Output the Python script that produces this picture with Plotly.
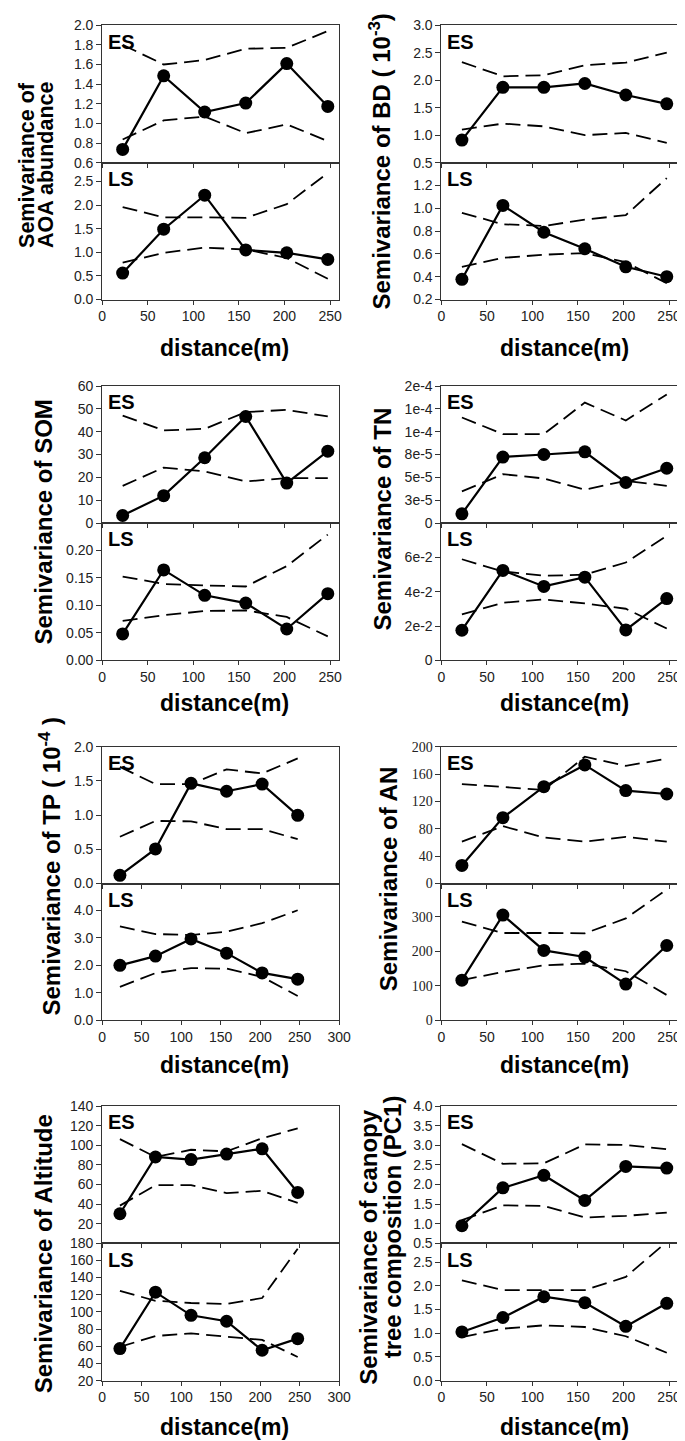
import plotly.graph_objects as go

W, H = 685, 1441

# ---------------- data ----------------
lag = [22.5, 67.5, 112.5, 157.5, 202.5, 247.5]

aoa_es = [0.735, 1.484, 1.116, 1.207, 1.609, 1.173]
aoa_es_upper = [1.80, 1.60, 1.645, 1.76, 1.77, 1.94]
aoa_es_lower = [0.836, 1.03, 1.07, 0.90, 0.99, 0.82]
aoa_ls = [0.56, 1.49, 2.21, 1.05, 0.99, 0.85]
aoa_ls_upper = [1.96, 1.74, 1.74, 1.73, 2.02, 2.68]
aoa_ls_lower = [0.78, 0.99, 1.10, 1.06, 0.88, 0.44]

bd_es = [0.91, 1.87, 1.87, 1.94, 1.73, 1.57]
bd_es_upper = [2.33, 2.07, 2.09, 2.27, 2.32, 2.50]
bd_es_lower = [1.10, 1.21, 1.16, 1.00, 1.04, 0.86]
bd_ls = [0.377, 1.025, 0.79, 0.645, 0.487, 0.40]
bd_ls_upper = [0.96, 0.86, 0.845, 0.90, 0.94, 1.265]
bd_ls_lower = [0.487, 0.565, 0.593, 0.607, 0.527, 0.342]

som_es = [3.3, 12.0, 28.6, 46.7, 17.5, 31.5]
som_es_upper = [47.1, 40.6, 41.3, 48.6, 49.6, 46.7]
som_es_lower = [16.3, 24.3, 22.6, 18.2, 19.7, 19.7]
som_ls = [0.048, 0.164, 0.118, 0.104, 0.057, 0.121]
som_ls_upper = [0.152, 0.1385, 0.136, 0.134, 0.171, 0.228]
som_ls_lower = [0.0716, 0.082, 0.0895, 0.0907, 0.0788, 0.0436]

tn_es = [1.01e-5, 7.23e-5, 7.51e-5, 7.8e-5, 4.44e-5, 6.0e-5]
tn_es_upper = [1.156e-4, 9.75e-5, 9.75e-5, 1.319e-4, 1.124e-4, 1.409e-4]
tn_es_lower = [3.47e-5, 5.35e-5, 4.88e-5, 3.65e-5, 4.62e-5, 4.08e-5]
tn_ls = [0.0176, 0.0524, 0.0431, 0.0485, 0.0178, 0.0360]
tn_ls_upper = [0.0589, 0.0518, 0.0493, 0.0499, 0.0570, 0.0725]
tn_ls_lower = [0.0268, 0.0336, 0.0355, 0.0332, 0.0301, 0.0186]

tp_es = [0.12, 0.506, 1.465, 1.35, 1.455, 0.998]
tp_es_upper = [1.706, 1.455, 1.455, 1.67, 1.61, 1.83]
tp_es_lower = [0.684, 0.916, 0.91, 0.795, 0.795, 0.65]
tp_ls = [2.0, 2.335, 2.958, 2.443, 1.725, 1.497]
tp_ls_upper = [3.413, 3.138, 3.10, 3.22, 3.53, 4.0]
tp_ls_lower = [1.22, 1.72, 1.90, 1.88, 1.58, 0.886]

an_es = [26.5, 96.4, 141.7, 173.5, 135.9, 131.0]
an_es_upper = [145.5, 140.7, 136.9, 185.5, 172.0, 182.6]
an_es_lower = [61.2, 83.9, 67.5, 61.2, 68.4, 61.2]
an_ls = [116.5, 304.7, 202.5, 183.4, 105.1, 216.8]
an_ls_upper = [285.6, 253.0, 253.0, 252.0, 295.0, 379.0]
an_ls_lower = [116.5, 140.4, 159.5, 164.3, 142.3, 73.5]

alt_es = [30.1, 88.0, 85.4, 91.0, 96.4, 51.8]
alt_es_upper = [106.2, 88.0, 95.4, 93.7, 107.2, 117.2]
alt_es_lower = [38.4, 59.2, 59.2, 51.2, 53.5, 41.1]
alt_ls = [57.4, 123.0, 96.1, 89.2, 55.4, 68.9]
alt_ls_upper = [124.6, 113.0, 110.4, 109.3, 116.2, 173.5]
alt_ls_lower = [59.3, 72.0, 75.0, 70.8, 67.4, 47.6]

pc1_es = [0.946, 1.913, 2.233, 1.593, 2.46, 2.418]
pc1_es_upper = [3.03, 2.527, 2.54, 3.02, 3.006, 2.897]
pc1_es_lower = [1.089, 1.467, 1.45, 1.156, 1.198, 1.282]
pc1_ls = [1.028, 1.333, 1.771, 1.646, 1.146, 1.632]
pc1_ls_upper = [2.118, 1.91, 1.91, 1.91, 2.188, 2.93]
pc1_ls_lower = [0.917, 1.097, 1.167, 1.132, 0.9375, 0.59]

# tick labels
x_ticks_250 = [0, 50, 100, 150, 200, 250]
x_ticks_300 = [0, 50, 100, 150, 200, 250, 300]

aoa_es_ticks = ["0.6", "0.8", "1.0", "1.2", "1.4", "1.6", "1.8", "2.0"]
aoa_ls_ticks = ["0.0", "0.5", "1.0", "1.5", "2.0", "2.5"]
bd_es_ticks = ["0.5", "1.0", "1.5", "2.0", "2.5", "3.0"]
bd_ls_ticks = ["0.2", "0.4", "0.6", "0.8", "1.0", "1.2"]
som_es_ticks = ["0", "10", "20", "30", "40", "50", "60"]
som_ls_ticks = ["0.00", "0.05", "0.10", "0.15", "0.20"]
tn_es_tickvals = [0, 2.5e-5, 5e-5, 7.5e-5, 1e-4, 1.25e-4, 1.5e-4]
tn_es_ticks = ["0", "3e-5", "5e-5", "8e-5", "1e-4", "1e-4", "2e-4"]
tn_ls_tickvals = [0, 0.02, 0.04, 0.06]
tn_ls_ticks = ["0", "2e-2", "4e-2", "6e-2"]
tp_es_ticks = ["0.0", "0.5", "1.0", "1.5", "2.0"]
tp_ls_ticks = ["0.0", "1.0", "2.0", "3.0", "4.0"]
an_es_ticks = ["0", "40", "80", "120", "160", "200"]
an_ls_ticks = ["0", "100", "200", "300"]
alt_es_ticks = ["20", "40", "60", "80", "100", "120", "140"]
alt_ls_ticks = ["20", "40", "60", "80", "100", "120", "140", "160", "180"]
pc1_es_ticks = ["0.5", "1.0", "1.5", "2.0", "2.5", "3.0", "3.5", "4.0"]
pc1_ls_ticks = ["0.0", "0.5", "1.0", "1.5", "2.0", "2.5"]

# ---------------- layout geometry (pixels) ----------------
rows = [(9.3, 148.3, 286.7), (374.3, 512.7, 651.7), (739.0, 877.3, 1015.7), (1102.3, 1241.0, 1380.0)]
cols = [(92.3, 335.0), (439.7, 683.0)]
xlabel_y = [336, 695, 1061, 1427]

SANS = "Liberation Sans, Arial, sans-serif"
SERIF = "Liberation Serif, Times New Roman, serif"
AX = "#333333"

def num(t):
    return [float(s) for s in t]

panels = [
    dict(r=0, c=0, xmax=260, xt=x_ticks_250,
         es=(aoa_es, aoa_es_upper, aoa_es_lower), ls=(aoa_ls, aoa_ls_upper, aoa_ls_lower),
         es_r=[0.6, 2.0], es_tv=num(aoa_es_ticks), es_tt=aoa_es_ticks,
         ls_r=[0, 2.9], ls_tv=num(aoa_ls_ticks), ls_tt=aoa_ls_ticks, yfont=SANS),
    dict(r=0, c=1, xmax=261, xt=x_ticks_250,
         es=(bd_es, bd_es_upper, bd_es_lower), ls=(bd_ls, bd_ls_upper, bd_ls_lower),
         es_r=[0.5, 3.0], es_tv=num(bd_es_ticks), es_tt=bd_es_ticks,
         ls_r=[0.2, 1.4], ls_tv=num(bd_ls_ticks), ls_tt=bd_ls_ticks, yfont=SANS),
    dict(r=1, c=0, xmax=260, xt=x_ticks_250,
         es=(som_es, som_es_upper, som_es_lower), ls=(som_ls, som_ls_upper, som_ls_lower),
         es_r=[0, 60], es_tv=num(som_es_ticks), es_tt=som_es_ticks,
         ls_r=[0, 0.249], ls_tv=num(som_ls_ticks), ls_tt=som_ls_ticks, yfont=SANS),
    dict(r=1, c=1, xmax=261, xt=x_ticks_250,
         es=(tn_es, tn_es_upper, tn_es_lower), ls=(tn_ls, tn_ls_upper, tn_ls_lower),
         es_r=[0, 1.5e-4], es_tv=tn_es_tickvals, es_tt=tn_es_ticks,
         ls_r=[0, 0.08], ls_tv=tn_ls_tickvals, ls_tt=tn_ls_ticks, yfont=SANS),
    dict(r=2, c=0, xmax=300, xt=x_ticks_300,
         es=(tp_es, tp_es_upper, tp_es_lower), ls=(tp_ls, tp_ls_upper, tp_ls_lower),
         es_r=[0, 2.0], es_tv=num(tp_es_ticks), es_tt=tp_es_ticks,
         ls_r=[0, 4.97], ls_tv=num(tp_ls_ticks), ls_tt=tp_ls_ticks, yfont=SANS),
    dict(r=2, c=1, xmax=261, xt=x_ticks_250,
         es=(an_es, an_es_upper, an_es_lower), ls=(an_ls, an_ls_upper, an_ls_lower),
         es_r=[0, 200], es_tv=num(an_es_ticks), es_tt=an_es_ticks,
         ls_r=[0, 396], ls_tv=num(an_ls_ticks), ls_tt=an_ls_ticks, yfont=SERIF),
    dict(r=3, c=0, xmax=300, xt=x_ticks_300,
         es=(alt_es, alt_es_upper, alt_es_lower), ls=(alt_ls, alt_ls_upper, alt_ls_lower),
         es_r=[0, 140], es_tv=num(alt_es_ticks), es_tt=alt_es_ticks,
         ls_r=[20, 180], ls_tv=num(alt_ls_ticks), ls_tt=alt_ls_ticks, yfont=SANS),
    dict(r=3, c=1, xmax=261, xt=x_ticks_250,
         es=(pc1_es, pc1_es_upper, pc1_es_lower), ls=(pc1_ls, pc1_ls_upper, pc1_ls_lower),
         es_r=[0.5, 4.0], es_tv=num(pc1_es_ticks), es_tt=pc1_es_ticks,
         ls_r=[0, 2.9], ls_tv=num(pc1_ls_ticks), ls_tt=pc1_ls_ticks, yfont=SANS),
]

fig = go.Figure()
layout = {}
annotations = []

def px(xp):
    return xp / W

def py(yp):
    return 1 - yp / H

base_axis = dict(showline=True, linecolor=AX, linewidth=1, mirror=True, ticks="outside",
                 tickcolor=AX, tickwidth=1, showgrid=False, zeroline=False)

k = 0
for p in panels:
    top, mid, bot = rows[p["r"]]
    x0, x1 = cols[p["c"]]
    for part in ("es", "ls"):
        k += 1
        xa = "xaxis" if k == 1 else f"xaxis{k}"
        ya = "yaxis" if k == 1 else f"yaxis{k}"
        xr = "x" if k == 1 else f"x{k}"
        yr = "y" if k == 1 else f"y{k}"
        if part == "es":
            dom = [py(mid), py(top)]
        else:
            dom = [py(bot), py(mid)]
        layout[xa] = dict(base_axis, domain=[px(x0), px(x1)], range=[0, p["xmax"]], anchor=yr,
                          tickvals=p["xt"], ticktext=[str(v) for v in p["xt"]], ticklen=4,
                          showticklabels=(part == "ls"),
                          tickfont=dict(family=SANS, size=14, color="#222222"))
        layout[ya] = dict(base_axis, domain=dom, range=p[part + "_r"], anchor=xr,
                          tickvals=p[part + "_tv"], ticktext=p[part + "_tt"], ticklen=5,
                          tickfont=dict(family=p["yfont"], size=14, color="#222222"))
        vals, upper, lower = p[part]
        for band in (upper, lower):
            fig.add_trace(go.Scatter(x=lag, y=band, mode="lines", xaxis=xr, yaxis=yr,
                                     line=dict(color="black", width=1.8, dash="15px,7px"),
                                     hoverinfo="skip", showlegend=False))
        fig.add_trace(go.Scatter(x=lag, y=vals, mode="lines+markers", xaxis=xr, yaxis=yr,
                                 line=dict(color="black", width=2.2),
                                 marker=dict(color="black", size=13),
                                 showlegend=False))
        label_y = (top if part == "es" else mid) + 16.5
        annotations.append(dict(text="<b>%s</b>" % part.upper(), xref="paper", yref="paper",
                                x=px(x0 + 4), y=py(label_y), xanchor="left", yanchor="middle",
                                showarrow=False, font=dict(family=SANS, size=20, color="black")))
    annotations.append(dict(text="<b>distance(m)</b>", xref="paper", yref="paper",
                            x=px((x0 + x1) / 2 + 4), y=py(xlabel_y[p["r"]]),
                            xanchor="center", yanchor="middle", showarrow=False,
                            font=dict(family=SANS, size=23, color="black")))

# y-axis titles (text, x-centre px, y-centre px, size)
ytitles = [
    ("Semivariance of", 16, 151, 21.5),
    ("AOA abundance", 35.5, 151, 21.5),
    ("Semivariance of BD ( 10<sup>-3</sup>)", 377, 147, 24),
    ("Semivariance of SOM", 32, 512, 24),
    ("Semivariance of TN", 379, 509, 24),
    ("Semivariance of TP ( 10<sup>-4</sup> )", 39, 860, 24),
    ("Semivariance of AN", 385, 873, 24),
    ("Semivariance of Altitude", 32, 1252, 24),
    ("Semivariance of canopy", 365, 1245, 24),
    ("tree composition (PC1)", 389, 1224, 24),
]
for txt, xc, yc, sz in ytitles:
    annotations.append(dict(text="<b>%s</b>" % txt, xref="paper", yref="paper",
                            x=px(xc), y=py(yc), xanchor="center", yanchor="middle",
                            textangle=-90, showarrow=False,
                            font=dict(family=SANS, size=sz, color="black")))

fig.update_layout(width=W, height=H, autosize=False, margin=dict(l=0, r=0, t=0, b=0),
                  paper_bgcolor="white", plot_bgcolor="white", showlegend=False,
                  annotations=annotations, **layout)

fig.write_html("out.html")
